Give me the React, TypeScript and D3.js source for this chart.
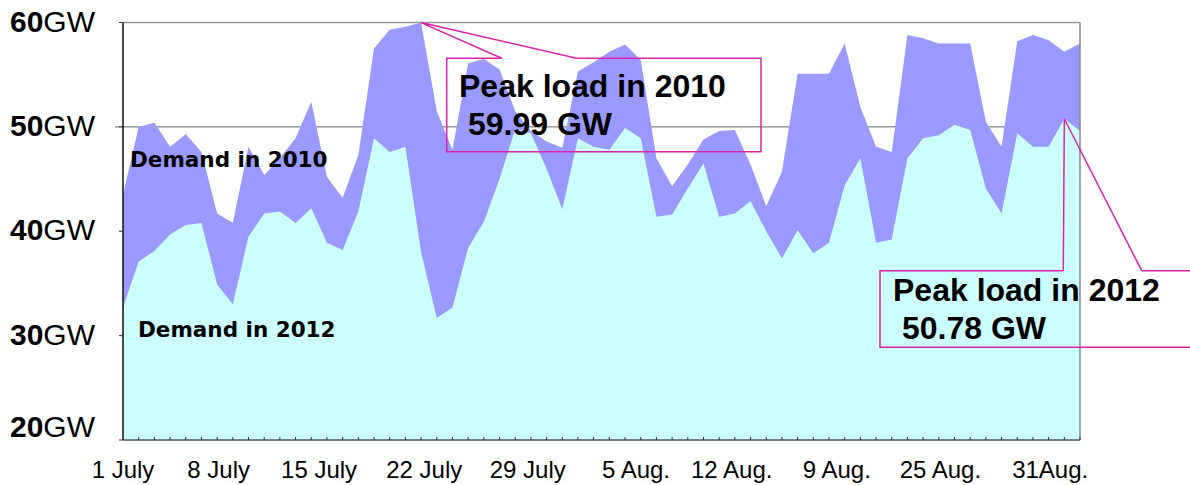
import * as React from "react";
import * as d3 from "d3";

// daily peak demand, 1 July .. 31 Aug (GW)
const demand2010 = [
  43.5, 50.0, 50.4, 48.1, 49.3, 47.6, 41.7, 40.8, 48.1, 45.4,
  47.0, 48.9, 52.4, 45.2, 43.2, 47.3, 57.5, 59.3, 59.6, 59.99,
  51.5, 47.8, 56.1, 56.5, 55.5, 51.5, 49.6, 48.6, 48.0, 55.3,
  56.2, 57.2, 57.9, 56.4, 47.0, 44.3, 46.4, 48.8, 49.6, 49.7,
  46.4, 42.4, 45.7, 55.1, 55.1, 55.1, 58.0, 51.9, 48.1, 47.6,
  58.8, 58.5, 58.0, 58.0, 58.0, 50.5, 48.1, 58.2, 58.8, 58.3,
  57.2, 58.0,
];
const demand2012 = [
  32.7, 37.1, 38.1, 39.7, 40.6, 40.8, 34.9, 33.0, 39.5, 41.7,
  41.9, 40.8, 42.2, 38.9, 38.2, 41.9, 48.9, 47.6, 48.1, 38.0,
  31.7, 32.7, 38.4, 40.9, 45.0, 49.8, 49.4, 46.0, 42.1, 48.9,
  48.1, 47.8, 49.9, 48.9, 41.4, 41.6, 44.1, 46.5, 41.4, 41.7,
  42.9, 40.0, 37.4, 40.1, 37.9, 38.9, 44.4, 47.0, 38.9, 39.2,
  47.0, 48.9, 49.2, 50.2, 49.7, 44.1, 41.7, 49.4, 48.1, 48.1,
  50.78, 49.6,
];
const yTicks = [60, 50, 40, 30, 20];
const xLabels = ["1 July", "8 July", "15 July", "22 July", "29 July", "5 Aug.", "12 Aug.", "9 Aug.", "25 Aug.", "31Aug."];
const xLabelDays = [0, 6.1, 12.5, 19.2, 25.8, 32.7, 38.8, 45.5, 52.1, 59.1];
const peak2010Day = 19;
const peak2012Day = 60;

const W = 1190;
const H = 485;
const left = 123, right = 1080, top = 22.5, bottom = 440;
const purple = "#9999ff";
const cyan = "#ccffff";
const magenta = "#dd22aa";
const arial = "'Liberation Sans', Arial, sans-serif";
const gothic = "'DejaVu Sans', Verdana, sans-serif";

export default function App() {
  const days = d3.range(demand2010.length);
  const x = d3.scaleLinear().domain([0, days.length - 1]).range([left, right]);
  const y = d3.scaleLinear().domain([20, 60]).range([bottom, top]);

  const area = (vals: number[]) =>
    d3.area<number>()
      .x((i) => x(i))
      .y0(y(20))
      .y1((i) => y(vals[i]))(days) as string;

  const p10 = [x(peak2010Day), y(demand2010[peak2010Day])];
  const p12 = [x(peak2012Day), y(demand2012[peak2012Day])];

  return (
    <div style={{ position: "absolute", left: 0, top: 0 }}>
      <svg width={W} height={H} style={{ display: "block", background: "#fff" }}>
        {/* gridline at 50 GW sits behind the areas */}
        <line x1={left - 8} x2={right} y1={y(50)} y2={y(50)} stroke="#666" strokeWidth={1} />
        <path d={area(demand2010)} fill={purple} />
        <path d={area(demand2012)} fill={cyan} />

        {/* frame */}
        <line x1={left} x2={right} y1={top} y2={top} stroke="#999" strokeWidth={1.5} />
        <line x1={right} x2={right} y1={top} y2={bottom} stroke="#888" strokeWidth={1.5} />
        <line x1={left} x2={right} y1={bottom} y2={bottom} stroke="#6f7f7f" strokeWidth={2} />
        <line x1={left} x2={left} y1={top} y2={bottom} stroke="#111" strokeWidth={1.5} />

        {/* x ticks, one per day */}
        {days.slice(1).map((i) => (
          <line key={i} x1={x(i)} x2={x(i)} y1={bottom} y2={bottom - 3} stroke="#333" strokeWidth={1} />
        ))}
        {yTicks.map((t) => (
          <line key={t} x1={left - 4} x2={left} y1={y(t)} y2={y(t)} stroke="#333" strokeWidth={1} />
        ))}

        {/* y labels */}
        {yTicks.map((t) => (
          <text key={t} x={95} y={Math.min(y(t) + 9, 437)} textAnchor="end" fontFamily={arial} fontSize={30} fill="#000">
            <tspan fontWeight="bold">{t}</tspan>
            <tspan>GW</tspan>
          </text>
        ))}

        {/* x labels */}
        {xLabels.map((l, k) => (
          <text key={l} x={x(xLabelDays[k])} y={478} textAnchor="middle" fontFamily={arial} fontSize={24} fill="#000">
            {l}
          </text>
        ))}

        {/* series labels */}
        <text x={130} y={167} fontFamily={gothic} fontWeight="bold" fontSize={21.5} fill="#000">Demand in 2010</text>
        <text x={138} y={337} fontFamily={gothic} fontWeight="bold" fontSize={21.5} fill="#000">Demand in 2012</text>

        {/* callout 2010 */}
        <path
          d={`M501.7,58.3 L446.7,58.3 L446.7,151.7 L761,151.7 L761,58.3 L576.7,58.3`}
          fill="none" stroke={magenta} strokeWidth={1.5}
        />
        <path d={`M501.7,58.3 L${p10[0]},${p10[1]} L576.7,58.3`} fill="none" stroke={magenta} strokeWidth={1.5} />
        <text x={459} y={97} fontFamily={arial} fontWeight="bold" fontSize={32} fill="#000">Peak load in 2010</text>
        <text x={468} y={135} fontFamily={arial} fontWeight="bold" fontSize={32} fill="#000">59.99 GW</text>

        {/* callout 2012 */}
        <path
          d={`M1063.3,270.7 L880,270.7 L880,347.3 L1200,347.3 M1141.7,270.7 L1200,270.7`}
          fill="none" stroke={magenta} strokeWidth={1.5}
        />
        <path d={`M1063.3,270.7 L${p12[0]},${p12[1]} L1141.7,270.7`} fill="none" stroke={magenta} strokeWidth={1.5} />
        <text x={893} y={301} fontFamily={arial} fontWeight="bold" fontSize={32} fill="#000">Peak load in 2012</text>
        <text x={902} y={339} fontFamily={arial} fontWeight="bold" fontSize={32} fill="#000">50.78 GW</text>
      </svg>
    </div>
  );
}
